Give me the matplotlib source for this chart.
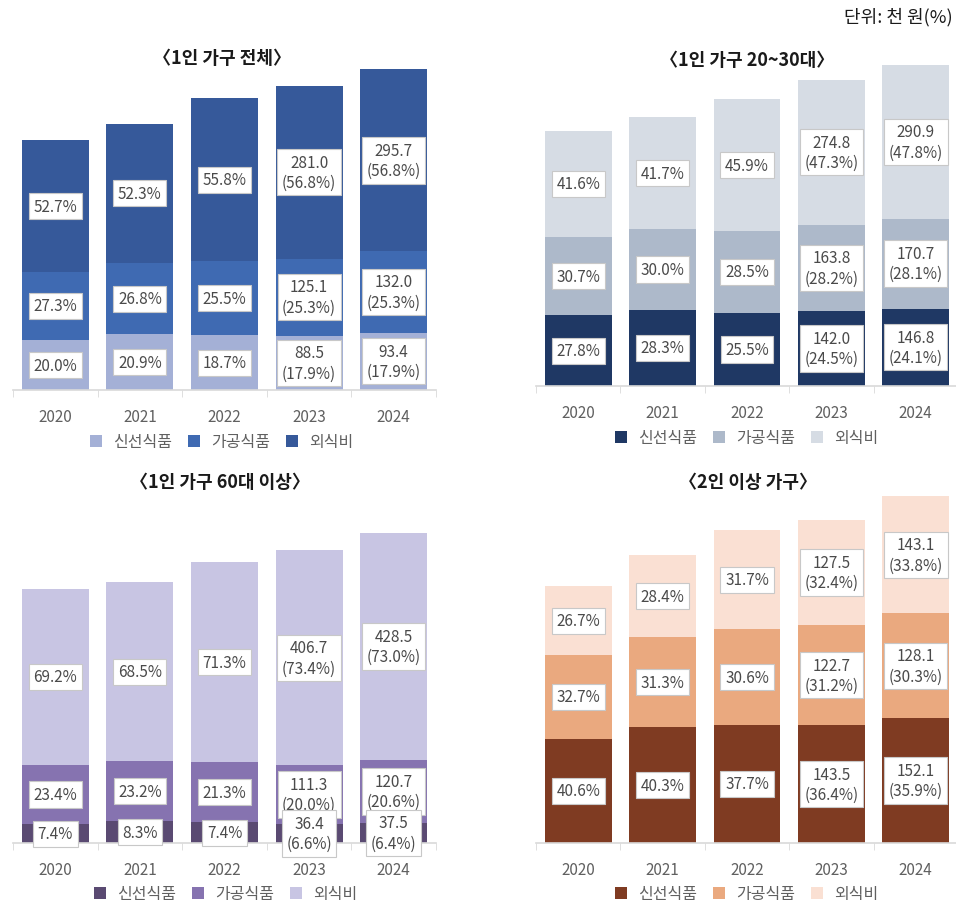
import matplotlib.pyplot as plt

plt.rcParams['font.family'] = ['Noto Sans CJK KR', 'DejaVu Sans']

years = ['2020', '2021', '2022', '2023', '2024']
series_names = ['신선식품', '가공식품', '외식비']

# 단위: 천 원 (2020~2022 values)
all_fresh = [81.2, 90.5, 88.6, 88.5, 93.4]
all_proc = [110.8, 116.0, 120.9, 125.1, 132.0]
all_out = [214.0, 226.5, 264.5, 281.0, 295.7]
all_pct = [[20.0, 20.9, 18.7, 17.9, 17.9],
           [27.3, 26.8, 25.5, 25.3, 25.3],
           [52.7, 52.3, 55.8, 56.8, 56.8]]

young_fresh = [134.3, 144.3, 138.7, 142.0, 146.8]
young_proc = [148.3, 153.0, 155.0, 163.8, 170.7]
young_out = [200.9, 212.7, 249.7, 274.8, 290.9]
young_pct = [[27.8, 28.3, 25.5, 24.5, 24.1],
             [30.7, 30.0, 28.5, 28.2, 28.1],
             [41.6, 41.7, 45.9, 47.3, 47.8]]

old_fresh = [35.6, 41.0, 39.4, 36.4, 37.5]
old_proc = [112.6, 114.6, 113.3, 111.3, 120.7]
old_out = [332.9, 338.4, 379.3, 406.7, 428.5]
old_pct = [[7.4, 8.3, 7.4, 6.6, 6.4],
           [23.4, 23.2, 21.3, 20.0, 20.6],
           [69.2, 68.5, 71.3, 73.4, 73.0]]

multi_fresh = [127.1, 141.5, 144.0, 143.5, 152.1]
multi_proc = [102.4, 109.9, 116.9, 122.7, 128.1]
multi_out = [83.6, 99.7, 121.1, 127.5, 143.1]
multi_pct = [[40.6, 40.3, 37.7, 36.4, 35.9],
             [32.7, 31.3, 30.6, 31.2, 30.3],
             [26.7, 28.4, 31.7, 32.4, 33.8]]

# title, data, pct, colours, axes box (px: left, baseline, right, top), ymax,
# title pos, legend pos
panels = [
    ('〈1인 가구 전체〉', [all_fresh, all_proc, all_out], all_pct,
     ['#a4b0d6', '#3f6ab2', '#36599a'], [13, 391, 436, 60], 538,
     (222, 58), (222, 443)),
    ('〈1인 가구 20~30대〉', [young_fresh, young_proc, young_out], young_pct,
     ['#1f3864', '#adb9ca', '#d6dce4'], [536, 387, 958, 60], 620,
     (747, 60), (747, 439)),
    ('〈1인 가구 60대 이상〉', [old_fresh, old_proc, old_out], old_pct,
     ['#5a4a72', '#8673b0', '#c8c5e3'], [13, 844, 436, 520], 614,
     (220, 483), (226, 895)),
    ('〈2인 이상 가구〉', [multi_fresh, multi_proc, multi_out], multi_pct,
     ['#7f3b22', '#eaa97f', '#fae0d3'], [536, 844, 958, 490], 432,
     (748, 483), (747, 895)),
]

W, H = 956, 903
fig = plt.figure(figsize=(W / 100, H / 100), dpi=100)

for title, series, pcts, colors, (x0, yb, x1, yt), ymax, tpos, lpos in panels:
    ax = fig.add_axes([x0 / W, 1 - yb / H, (x1 - x0) / W, (yb - yt) / H])
    x = list(range(len(years)))
    bottom = [0] * len(years)
    for k, (vals, pct, col, name) in enumerate(zip(series, pcts, colors, series_names)):
        ax.bar(x, vals, width=0.79, bottom=bottom, color=col, label=name)
        for i in x:
            if i >= 3:
                txt = f'{vals[i]:.1f}\n({pct[i]:.1f}%)'
            else:
                txt = f'{pct[i]:.1f}%'
            ax.text(i, bottom[i] + vals[i] / 2, txt, ha='center', va='center',
                    fontsize=11, color='#4a4a4a', linespacing=1.25, zorder=6 - k,
                    bbox=dict(boxstyle='square,pad=0.3', fc='white',
                              ec='#c8c8c8', lw=0.8))
        bottom = [b + v for b, v in zip(bottom, vals)]
    ax.set_xlim(-0.5, 4.5)
    ax.set_ylim(0, ymax)
    ax.set_xticks(x)
    ax.set_xticklabels(years, fontsize=11, color='#606060')
    ax.tick_params(axis='x', length=0, pad=13)
    ax.set_xticks([i - 0.5 for i in range(6)], minor=True)
    ax.tick_params(axis='x', which='minor', length=5, color='#d9d9d9')
    ax.set_yticks([])
    for s in ['top', 'right', 'left']:
        ax.spines[s].set_visible(False)
    ax.spines['bottom'].set_color('#d9d9d9')
    ax.spines['bottom'].set_linewidth(1.2)
    fig.text(tpos[0] / W, 1 - tpos[1] / H, title, ha='center', va='center',
             fontsize=13, fontweight='bold', color='#1a1a1a')
    ax.legend(loc='center', bbox_to_anchor=(lpos[0] / W, 1 - lpos[1] / H),
              bbox_transform=fig.transFigure, ncol=3, frameon=False,
              fontsize=11.5, labelcolor='#606060',
              handlelength=0.75, handleheight=0.75, handletextpad=0.7,
              columnspacing=1.0)

fig.text(953 / W, 1 - 17 / H, '단위: 천 원(%)', ha='right', va='center',
         fontsize=13, color='#1a1a1a')

plt.savefig('out.png', dpi=100)
